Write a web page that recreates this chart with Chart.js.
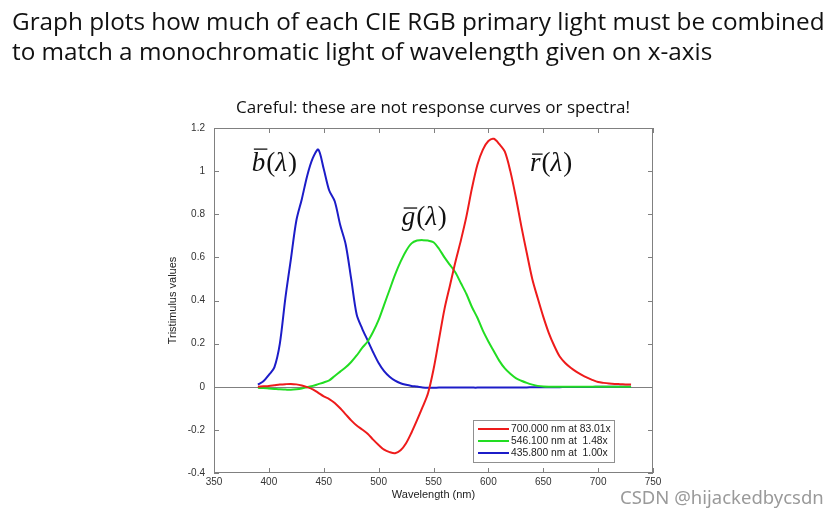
<!DOCTYPE html>
<html>
<head>
<meta charset="utf-8">
<script src="https://cdn.jsdelivr.net/npm/chart.js@4.4.1/dist/chart.umd.min.js"></script>
<style>
  body { margin: 0; background: #fff; }
  #wrap { position: relative; width: 840px; height: 520px; overflow: hidden; }
  #cmf { position: absolute; left: 0; top: 0; }
  .txt { position: absolute; white-space: nowrap; font-family: "Open Sans", sans-serif; color: #111; }
  #title1 { left: 12px; top: 4px; font-size: 24.3px; }
  #title2 { left: 12px; top: 34px; font-size: 24.3px; }
  #sub { left: 236px; top: 95px; font-size: 17px; }
  #mark { left: 620px; top: 484px; font-size: 18.5px; color: #9a9a9a; font-family: "Noto Sans", sans-serif; }
</style>
</head>
<body>
<div id="wrap">
  <canvas id="cmf" width="840" height="520"></canvas>
  <div class="txt" id="title1">Graph plots how much of each CIE RGB primary light must be combined</div>
  <div class="txt" id="title2">to match a monochromatic light of wavelength given on x-axis</div>
  <div class="txt" id="sub">Careful: these are not response curves or spectra!</div>
  <div class="txt" id="mark">CSDN @hijackedbycsdn</div>
</div>
<script>
// Wavelengths (nm), 390..730 step 5
const wavelengths = [];
for (let w = 390; w <= 730; w += 5) wavelengths.push(w);

// r-bar (red primary, 700 nm)
const rBar = [
  0.000, 0.002, 0.004, 0.007, 0.010, 0.012, 0.013, 0.011, 0.006, -0.002,
  -0.012, -0.028, -0.045, -0.057, -0.075, -0.100, -0.128, -0.156, -0.180, -0.198,
  -0.218, -0.245, -0.270, -0.292, -0.303, -0.308, -0.295, -0.262, -0.212, -0.155,
  -0.095, -0.030, 0.080, 0.220, 0.360, 0.470, 0.580, 0.680, 0.790, 0.920,
  1.030, 1.100, 1.140, 1.150, 1.125, 1.090, 1.000, 0.880, 0.745, 0.620,
  0.500, 0.410, 0.325, 0.250, 0.190, 0.140, 0.110, 0.088, 0.070, 0.055,
  0.042, 0.031, 0.022, 0.018, 0.015, 0.013, 0.012, 0.011, 0.010
];

// g-bar (green primary, 546.1 nm)
const gBar = [
  -0.005, -0.006, -0.008, -0.010, -0.012, -0.013, -0.014, -0.012, -0.008, -0.002,
  0.004, 0.012, 0.020, 0.030, 0.050, 0.070, 0.090, 0.115, 0.145, 0.180,
  0.210, 0.255, 0.310, 0.380, 0.450, 0.520, 0.580, 0.630, 0.665, 0.678,
  0.680, 0.678, 0.670, 0.640, 0.600, 0.565, 0.530, 0.480, 0.430, 0.370,
  0.320, 0.260, 0.210, 0.165, 0.120, 0.085, 0.060, 0.040, 0.028, 0.018,
  0.010, 0.004, 0.001, 0.000, 0.000, 0.000, 0.000, 0.000, 0.000, 0.000,
  0.000, 0.000, 0.000, 0.000, 0.000, 0.000, 0.000, 0.000, 0.000
];

// b-bar (blue primary, 435.8 nm)
const bBar = [
  0.010, 0.025, 0.055, 0.090, 0.200, 0.410, 0.590, 0.770, 0.870, 0.980,
  1.060, 1.100, 1.010, 0.910, 0.860, 0.750, 0.660, 0.500, 0.335, 0.270,
  0.215, 0.160, 0.110, 0.072, 0.046, 0.028, 0.016, 0.009, 0.004, 0.001,
  -0.003, -0.005, -0.005, -0.004, -0.004, -0.004, -0.004, -0.004, -0.004, -0.004,
  -0.004, -0.003, -0.003, -0.003, -0.003, -0.003, -0.003, -0.003, -0.003, -0.003,
  -0.002, -0.002, -0.002, -0.002, -0.002, -0.002, -0.001, -0.001, -0.001, -0.001,
  -0.001, -0.001, 0.000, 0.000, 0.000, 0.000, 0.000, 0.000, 0.000
];

const seriesLabels = ["700.000 nm at 83.01x", "546.100 nm at  1.48x", "435.800 nm at  1.00x"];
const seriesColors = ["#ee1b1b", "#22dd22", "#1c1cc8"];

// curve name annotations: [letter, wavelength, value]
const curveNames = [["b", 384.5, 1.0], ["g", 521, 0.75], ["r", 638, 1.0]];

const xTicks = [350, 400, 450, 500, 550, 600, 650, 700, 750];
const yTicks = [-0.4, -0.2, 0, 0.2, 0.4, 0.6, 0.8, 1, 1.2];

function pts(vals) {
  return wavelengths.map((w, i) => ({ x: w, y: vals[i] }));
}

// MATLAB-like box, inward ticks, zero line
const boxPlugin = {
  id: "box",
  beforeDatasetsDraw(chart) {
    const { ctx, chartArea: a, scales: { y } } = chart;
    ctx.save();
    ctx.strokeStyle = "#808080";
    ctx.lineWidth = 1;
    const y0 = Math.round(y.getPixelForValue(0)) + 0.5;
    ctx.beginPath();
    ctx.moveTo(a.left, y0);
    ctx.lineTo(a.right, y0);
    ctx.stroke();
    ctx.restore();
  },
  afterDraw(chart) {
    const { ctx, chartArea: a, scales: { x, y } } = chart;
    ctx.save();
    ctx.strokeStyle = "#808080";
    ctx.lineWidth = 1;
    ctx.strokeRect(a.left + 0.5, a.top + 0.5, a.width - 1, a.height - 1);
    ctx.beginPath();
    xTicks.forEach(v => {
      const px = Math.round(x.getPixelForValue(v)) + 0.5;
      ctx.moveTo(px, a.bottom); ctx.lineTo(px, a.bottom - 5);
      ctx.moveTo(px, a.top); ctx.lineTo(px, a.top + 5);
    });
    yTicks.forEach(v => {
      const py = Math.round(y.getPixelForValue(v)) + 0.5;
      ctx.moveTo(a.left, py); ctx.lineTo(a.left + 5, py);
      ctx.moveTo(a.right, py); ctx.lineTo(a.right - 5, py);
    });
    ctx.stroke();

    // legend box
    const bw = 141, bh = 42;
    const bx = a.right - 39 - bw, by = a.bottom - 11 - bh;
    ctx.fillStyle = "#fff";
    ctx.fillRect(bx, by, bw, bh);
    ctx.strokeStyle = "#909090";
    ctx.strokeRect(bx + 0.5, by + 0.5, bw, bh);
    ctx.font = "10.3px 'Liberation Sans', Arial, sans-serif";
    ctx.textBaseline = "middle";
    ctx.fillStyle = "#222";
    chart.data.datasets.forEach((ds, i) => {
      const ly = by + 9 + i * 12;
      ctx.strokeStyle = ds.borderColor;
      ctx.lineWidth = 2;
      ctx.beginPath();
      ctx.moveTo(bx + 5, ly); ctx.lineTo(bx + 36, ly);
      ctx.stroke();
      ctx.fillText(ds.label, bx + 38, ly);
    });

    // curve names like  \bar{b}(\lambda)
    ctx.fillStyle = "#111";
    ctx.strokeStyle = "#111";
    ctx.lineWidth = 1.3;
    ctx.textBaseline = "alphabetic";
    curveNames.forEach(([letter, wl, val]) => {
      let px = x.getPixelForValue(wl);
      const py = y.getPixelForValue(val);
      ctx.font = "italic 27px 'Liberation Serif', serif";
      const lw = ctx.measureText(letter).width;
      ctx.fillText(letter, px, py);
      const barY = letter === "b" ? py - 22 : py - 17;
      ctx.beginPath();
      ctx.moveTo(px + 2, barY); ctx.lineTo(px + lw + 2, barY);
      ctx.stroke();
      px += lw + 1;
      ctx.font = "27px 'Liberation Serif', serif";
      ctx.fillText("(", px, py);
      px += ctx.measureText("(").width;
      ctx.font = "italic 27px 'Liberation Serif', serif";
      ctx.fillText("\u03bb", px, py);
      px += ctx.measureText("\u03bb").width + 1;
      ctx.font = "27px 'Liberation Serif', serif";
      ctx.fillText(")", px, py);
    });
    ctx.restore();
  }
};

const tickFont = { family: "'Liberation Sans', Arial, sans-serif", size: 10 };

new Chart(document.getElementById("cmf"), {
  type: "line",
  data: {
    datasets: [
      { label: seriesLabels[0], data: pts(rBar), borderColor: seriesColors[0] },
      { label: seriesLabels[1], data: pts(gBar), borderColor: seriesColors[1] },
      { label: seriesLabels[2], data: pts(bBar), borderColor: seriesColors[2] }
    ]
  },
  options: {
    responsive: false,
    animation: false,
    layout: { padding: { left: 150, top: 128, right: 187, bottom: 0 } },
    elements: {
      point: { radius: 0 },
      line: { borderWidth: 2, tension: 0.3, fill: false }
    },
    plugins: { legend: { display: false }, tooltip: { enabled: false } },
    scales: {
      x: {
        type: "linear",
        min: 350, max: 750,
        afterBuildTicks: s => { s.ticks = xTicks.map(v => ({ value: v })); },
        afterFit: s => { s.height = 47; },
        grid: { display: false, drawTicks: false },
        border: { display: false },
        ticks: { font: tickFont, color: "#333", padding: 3, maxRotation: 0 },
        title: { display: true, text: "Wavelength (nm)", font: { family: "'Liberation Sans', Arial, sans-serif", size: 11 }, color: "#222", padding: { top: 0, bottom: 18 } }
      },
      y: {
        min: -0.4, max: 1.2,
        afterBuildTicks: s => { s.ticks = yTicks.map(v => ({ value: v })); },
        afterFit: s => { s.width = 64; },
        grid: { display: false, drawTicks: false },
        border: { display: false },
        ticks: { font: tickFont, color: "#333", padding: 9, callback: v => String(Math.round(v * 10) / 10) },
        title: { display: true, text: "Tristimulus values", font: { family: "'Liberation Sans', Arial, sans-serif", size: 11 }, color: "#222", padding: { top: 16, bottom: 0 } }
      }
    }
  },
  plugins: [boxPlugin]
});
</script>
</body>
</html>
